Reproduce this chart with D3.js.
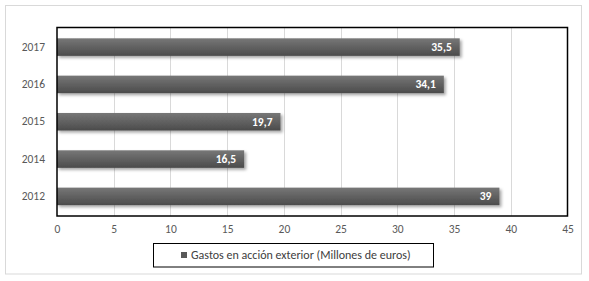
<!DOCTYPE html>
<html>
<head>
<meta charset="utf-8">
<script src="https://cdn.jsdelivr.net/npm/d3@7"></script>
<style>
  body { margin: 0; background: #fff; }
  text { font-family: Carlito, "Liberation Sans Narrow", "Liberation Sans", sans-serif; }
</style>
</head>
<body>
<script>
  // Data
  var years = ['2017', '2016', '2015', '2014', '2012']
  var gastos = [35.5, 34.1, 19.7, 16.5, 39]
  var xTicks = [0, 5, 10, 15, 20, 25, 30, 35, 40, 45]
  var seriesName = 'Gastos en acción exterior (Millones de euros)'

  var w = 589
  var h = 281
  var plot = { left: 57, right: 567.5, top: 27.5, bottom: 216 }

  var svg = d3.select('body').append('svg')
    .attr('width', w)
    .attr('height', h)

  // Gradient + shadow for bars
  var defs = svg.append('defs')
  var grad = defs.append('linearGradient')
    .attr('id', 'barGrad')
    .attr('x1', 0).attr('y1', 0).attr('x2', 0).attr('y2', 1)
  grad.append('stop').attr('offset', '0%').attr('stop-color', '#777')
  grad.append('stop').attr('offset', '100%').attr('stop-color', '#4b4b4b')

  var shadow = defs.append('filter')
    .attr('id', 'shadow')
    .attr('x', '-5%').attr('y', '-30%')
    .attr('width', '115%').attr('height', '180%')
  shadow.append('feDropShadow')
    .attr('dx', 2).attr('dy', 2)
    .attr('stdDeviation', 1.5)
    .attr('flood-color', '#000')
    .attr('flood-opacity', 0.35)

  // Outer chart border
  svg.append('rect')
    .attr('x', 5.5).attr('y', 5.5)
    .attr('width', 576).attr('height', 268.5)
    .attr('fill', '#fff')
    .attr('stroke', '#d9d9d9')

  var x = d3.scaleLinear()
    .domain([0, 45])
    .range([plot.left, plot.right])

  var y = d3.scaleBand()
    .domain(years)
    .range([plot.top, plot.bottom])
    .paddingInner(0.53)
    .paddingOuter(0.29)

  // Gridlines
  svg.append('g')
    .selectAll('line')
    .data(xTicks.slice(1, -1))
    .enter().append('line')
      .attr('x1', function (d) { return Math.round(x(d)) + 0.5 })
      .attr('x2', function (d) { return Math.round(x(d)) + 0.5 })
      .attr('y1', plot.top)
      .attr('y2', plot.bottom)
      .attr('stroke', '#d9d9d9')

  // X axis labels
  var xAxis = d3.axisBottom(x)
    .tickValues(xTicks)
    .tickSize(0)
    .tickPadding(9)
  var gx = svg.append('g')
    .attr('transform', 'translate(0,' + plot.bottom + ')')
    .call(xAxis)
  gx.select('.domain').remove()
  gx.selectAll('text')
    .attr('fill', '#595959')
    .style('font-size', '11.5px')

  // Y axis labels
  var yAxis = d3.axisLeft(y).tickSize(0).tickPadding(12)
  var gy = svg.append('g')
    .attr('transform', 'translate(' + plot.left + ',0)')
    .call(yAxis)
  gy.select('.domain').remove()
  gy.selectAll('text')
    .attr('fill', '#595959')
    .style('font-size', '11.5px')

  // Bars
  svg.append('g')
    .selectAll('rect')
    .data(years)
    .enter().append('rect')
      .attr('x', x(0))
      .attr('y', function (d) { return y(d) })
      .attr('width', function (d, i) { return x(gastos[i]) - x(0) })
      .attr('height', y.bandwidth())
      .attr('fill', 'url(#barGrad)')
      .attr('filter', 'url(#shadow)')

  // Data labels
  svg.append('g')
    .selectAll('text')
    .data(years)
    .enter().append('text')
      .attr('x', function (d, i) { return x(gastos[i]) - 8 })
      .attr('y', function (d) { return y(d) + y.bandwidth() / 2 })
      .attr('dy', '0.35em')
      .attr('text-anchor', 'end')
      .attr('fill', '#fff')
      .style('font-size', '11.5px')
      .style('font-weight', 'bold')
      .text(function (d, i) { return String(gastos[i]).replace('.', ',') })

  // Plot area border
  svg.append('rect')
    .attr('x', plot.left).attr('y', plot.top)
    .attr('width', plot.right - plot.left)
    .attr('height', plot.bottom - plot.top)
    .attr('fill', 'none')
    .attr('stroke', '#000')
    .attr('stroke-width', 1.5)

  // Legend
  var legend = svg.append('g')
  legend.append('rect')
    .attr('x', 153.5).attr('y', 243.5)
    .attr('width', 280).attr('height', 23.5)
    .attr('fill', '#fff')
    .attr('stroke', '#000')
  legend.append('rect')
    .attr('x', 181).attr('y', 252)
    .attr('width', 6).attr('height', 6)
    .attr('fill', '#595959')
  legend.append('text')
    .attr('x', 191)
    .attr('y', 255)
    .attr('dy', '0.35em')
    .attr('fill', '#404040')
    .style('font-size', '12px')
    .text(seriesName)
</script>
</body>
</html>
